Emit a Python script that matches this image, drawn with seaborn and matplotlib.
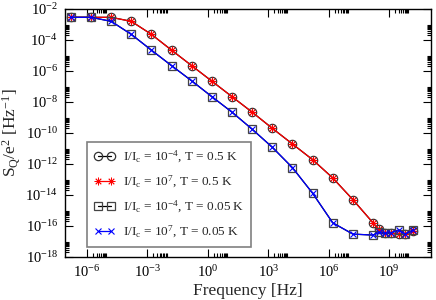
import numpy as np
import pandas as pd
import matplotlib
matplotlib.use("Agg")
import matplotlib.pyplot as plt
import matplotlib.ticker as mticker
import seaborn as sns

# frequency points [Hz]
freq = [1.59e-7, 1.59e-6, 1.59e-5, 1.59e-4, 1.59e-3, 1.59e-2, 1.59e-1, 1.59e0,
        1.59e1, 1.59e2, 1.59e3, 1.59e4, 1.59e5, 1.59e6, 1.59e7, 1.59e8,
        3.0e8, 6.0e8, 1.3e9, 3.0e9, 6.2e9, 1.55e10]

# S_Q/e^2 at T = 0.5 K (same for both currents)
s_hot = [2.9e-3, 2.9e-3, 2.9e-3, 1.6e-3, 2.3e-4, 2.2e-5, 2.2e-6, 2.2e-7,
         2.2e-8, 2.2e-9, 2.0e-10, 1.95e-11, 1.9e-12, 1.26e-13, 5.0e-15, 1.6e-16,
         6.2e-17, 3.7e-17, 3.4e-17, 2.9e-17, 2.9e-17, 5.0e-17]

# S_Q/e^2 at T = 0.05 K
s_cold = [2.9e-3, 2.9e-3, 1.6e-3, 2.3e-4, 2.2e-5, 2.2e-6, 2.3e-7, 2.2e-8,
          2.2e-9, 1.75e-10, 1.2e-11, 5.8e-13, 1.3e-14, 1.6e-16, 3.0e-17, 2.6e-17,
          3.9e-17, 3.4e-17, 3.7e-17, 5.5e-17, 3.0e-17, 5.5e-17]

labels = [r"I/I$_c$ = 10$^{-4}$, T = 0.5 K",
          r"I/I$_c$ = 10$^{7}$, T = 0.5 K",
          r"I/I$_c$ = 10$^{-4}$, T = 0.05 K",
          r"I/I$_c$ = 10$^{7}$, T = 0.05 K"]

sns.set_theme(style="ticks")
plt.rcParams["font.family"] = ["Liberation Serif", "DejaVu Serif"]
plt.rcParams["mathtext.default"] = "regular"
plt.rcParams["axes.linewidth"] = 1.0

fig = plt.figure(figsize=(4.36, 3.0), dpi=100)
ax = fig.add_axes([65 / 436, 1 - 257 / 300, 366 / 436, 248 / 300])

common = dict(ax=ax, estimator=None, sort=False, lw=0.9)
sns.lineplot(x=freq, y=s_hot, color="black", marker="o", markersize=6,
             markerfacecolor="none", markeredgecolor="#333333", mew=0.9,
             label=labels[0], **common)
sns.lineplot(x=freq, y=s_hot, color="red", marker=(8, 2, 0), markersize=5.5,
             markeredgecolor="red", mew=0.6, label=labels[1], **common)
sns.lineplot(x=freq, y=s_cold, color="black", marker="s", markersize=5.5,
             markerfacecolor="none", markeredgecolor="#444444", mew=0.9,
             label=labels[2], **common)
sns.lineplot(x=freq, y=s_cold, color="blue", marker="x", markersize=5,
             markeredgecolor="blue", mew=0.8, label=labels[3], **common)

ax.set_xscale("log")
ax.set_yscale("log")
ax.set_xlim(8.1e-8, 1.2e11)
ax.set_ylim(1e-18, 1e-2)

xmaj = [1e-6, 1e-3, 1e0, 1e3, 1e6, 1e9]
ymaj = [10.0 ** e for e in range(-18, -1, 2)]
ax.xaxis.set_major_locator(mticker.FixedLocator(xmaj))
ax.yaxis.set_major_locator(mticker.FixedLocator(ymaj))
ax.xaxis.set_major_formatter(mticker.LogFormatterMathtext())
ax.yaxis.set_major_formatter(mticker.LogFormatterMathtext())
ax.xaxis.set_minor_locator(mticker.FixedLocator([m * s for m in xmaj for s in range(2, 10)]))
ax.yaxis.set_minor_locator(mticker.FixedLocator([m * s for m in ymaj for s in range(2, 10)]))
ax.xaxis.set_minor_formatter(mticker.NullFormatter())
ax.yaxis.set_minor_formatter(mticker.NullFormatter())

ax.tick_params(which="both", direction="in", top=True, right=True,
               labelsize=10.5, colors="black", width=0.8)
ax.tick_params(which="major", length=6, pad=5)
ax.tick_params(which="minor", length=3)
for sp in ax.spines.values():
    sp.set_color("black")

ax.set_xlabel("Frequency [Hz]", fontsize=12.5, labelpad=2)
ax.set_ylabel(r"S$_Q$/e$^2$ [Hz$^{-1}$]", fontsize=12.5, labelpad=2)

leg = ax.legend(loc="lower left", bbox_to_anchor=(0.06, 0.04), borderaxespad=0,
                fontsize=9.5, numpoints=2, handlelength=1.6, handletextpad=0.6,
                labelspacing=0.68, borderpad=0.5, fancybox=False, framealpha=1)
leg.get_frame().set_edgecolor("0.5")
leg.get_frame().set_linewidth(1.2)

fig.savefig("out.png", dpi=100)
